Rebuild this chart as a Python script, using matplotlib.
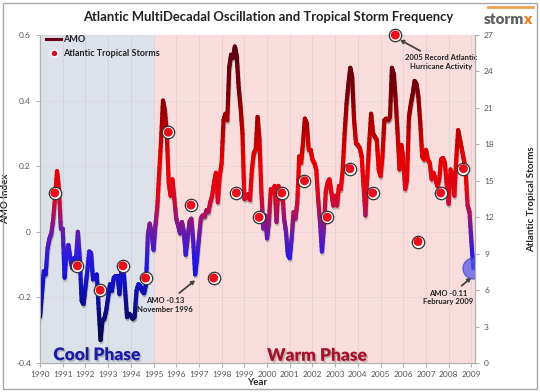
import numpy as np
import matplotlib
matplotlib.use('Agg')
import matplotlib.pyplot as plt
from matplotlib.collections import LineCollection
from matplotlib.colors import LinearSegmentedColormap
from matplotlib.lines import Line2D
from matplotlib.patches import Rectangle
import matplotlib.patheffects as pe

# ---------------- data ----------------
start_year = 1990
amo_1990 = [-0.26, -0.19, -0.12, -0.13, -0.05, -0.02, -0.005, 0.04, 0.11, 0.185, 0.13, 0.01]
amo_1991 = [0.01, -0.14, -0.06, -0.04, -0.08, -0.11, -0.08, -0.085, 0.0, -0.08, -0.21, -0.22]
amo_1992 = [-0.17, -0.12, -0.06, -0.065, -0.145, -0.137, -0.13, -0.235, -0.33, -0.27, -0.265, -0.24]
amo_1993 = [-0.2, -0.16, -0.18, -0.14, -0.135, -0.135, -0.19, -0.116, -0.105, -0.18, -0.26, -0.25]
amo_1994 = [-0.255, -0.265, -0.26, -0.18, -0.16, -0.165, -0.18, -0.187, -0.16, -0.01, 0.025, -0.005]
amo_1995 = [-0.055, 0.02, 0.077, 0.18, 0.28, 0.40, 0.37, 0.30, 0.15, 0.11, 0.16, 0.10]
amo_1996 = [0.04, 0.02, -0.005, 0.03, 0.0, -0.07, -0.02, 0.03, 0.04, -0.03, -0.13, -0.08]
amo_1997 = [-0.02, 0.04, 0.05, 0.046, 0.066, 0.06, 0.09, 0.11, 0.15, 0.18, 0.09, 0.17]
amo_1998 = [0.21, 0.34, 0.36, 0.34, 0.50, 0.54, 0.53, 0.565, 0.534, 0.44, 0.38, 0.30]
amo_1999 = [0.10, 0.105, 0.115, 0.097, 0.19, 0.24, 0.25, 0.35, 0.28, 0.12, 0.01, 0.05]
amo_2000 = [-0.02, 0.03, 0.13, 0.12, 0.14, 0.03, 0.14, 0.10, 0.13, 0.04, 0.0, -0.07]
amo_2001 = [-0.08, -0.02, 0.06, 0.04, 0.09, 0.23, 0.21, 0.27, 0.345, 0.33, 0.25, 0.25]
amo_2002 = [0.22, 0.21, 0.19, 0.10, 0.03, -0.06, 0.01, 0.12, 0.15, 0.16, 0.12, 0.08]
amo_2003 = [0.11, 0.08, 0.14, 0.13, 0.19, 0.30, 0.39, 0.45, 0.50, 0.47, 0.34, 0.27]
amo_2004 = [0.265, 0.255, 0.23, 0.14, 0.05, 0.17, 0.27, 0.36, 0.30, 0.29, 0.28, 0.19]
amo_2005 = [0.17, 0.23, 0.34, 0.345, 0.34, 0.35, 0.50, 0.48, 0.40, 0.30, 0.19, 0.265]
amo_2006 = [0.22, 0.13, 0.16, 0.35, 0.39, 0.42, 0.46, 0.45, 0.41, 0.33, 0.23, 0.22]
amo_2007 = [0.25, 0.22, 0.21, 0.16, 0.18, 0.16, 0.14, 0.16, 0.22, 0.225, 0.21, 0.14]
amo_2008 = [0.085, 0.19, 0.17, 0.11, 0.22, 0.31, 0.28, 0.25, 0.22, 0.18, 0.08, 0.06]
amo_2009 = [-0.03, -0.11]

storm_years = list(range(1990, 2009))
storm_counts = [14, 8, 6, 8, 7, 19, 13, 7, 14, 12, 14, 15, 12, 16, 14, 27, 10, 14, 16]

year_ticks = list(range(1990, 2010))
amo_ticks = [-0.4, -0.2, 0, 0.2, 0.4, 0.6]
amo_tick_labels = ['-0.4', '-0.2', '0', '0.2', '0.4', '0.6']
storm_ticks = list(range(0, 28, 3))

# ---------------- figure ----------------
plt.rcParams['font.family'] = ['Lato', 'DejaVu Sans']
W, H = 540, 392
fig = plt.figure(figsize=(W / 100, H / 100), dpi=100)
ax = fig.add_axes([40 / W, 29 / H, 435 / W, 328 / H])
ax.set_xlim(1990, 2009.16)
ax.set_ylim(-0.4, 0.6)

amo = (amo_1990 + amo_1991 + amo_1992 + amo_1993 + amo_1994 + amo_1995 + amo_1996 +
       amo_1997 + amo_1998 + amo_1999 + amo_2000 + amo_2001 + amo_2002 + amo_2003 +
       amo_2004 + amo_2005 + amo_2006 + amo_2007 + amo_2008 + amo_2009)
amo = np.array(amo)
t = start_year + np.arange(len(amo)) / 12.0

# backgrounds
ax.axvspan(1990, 1995, color='#dde1ea', zorder=0, lw=0)
ax.axvspan(1995, 2009.16, color='#f9dddd', zorder=0, lw=0)
ax.set_axisbelow(True)
ax.grid(True, axis='x', color='#c8c4cc', lw=0.6, alpha=0.5)
ax.grid(True, axis='y', color='#d6d0d6', lw=0.6, alpha=0.5)

# gradient line (subdivide each segment for smooth colour change)
cmap = LinearSegmentedColormap.from_list('amo', [
    (0.00, '#050535'), (0.11, '#0c0c80'), (0.22, '#1212c8'), (0.295, '#2a1ae0'),
    (0.38, '#6a1aa8'), (0.445, '#b0105a'), (0.51, '#e00818'), (0.62, '#e60000'),
    (0.73, '#b00000'), (0.84, '#7a0008'), (1.00, '#5a0010')])
vmin, vmax = -0.35, 0.57
segs, cols = [], []
for i in range(len(amo) - 1):
    xs = np.linspace(t[i], t[i + 1], 7)
    ys = np.linspace(amo[i], amo[i + 1], 7)
    for j in range(6):
        segs.append([(xs[j], ys[j]), (xs[j + 1], ys[j + 1])])
        cols.append(cmap(((ys[j] + ys[j + 1]) / 2 - vmin) / (vmax - vmin)))
shadow = LineCollection([[(a + 0.03, b - 0.006) for a, b in s] for s in segs],
                        colors='#999999', linewidths=3.2, alpha=0.35, zorder=2,
                        capstyle='round')
ax.add_collection(shadow)
lc = LineCollection(segs, colors=cols, linewidths=3.0, zorder=3, capstyle='round',
                    joinstyle='round')
ax.add_collection(lc)

# end-point highlight
ax.scatter([t[-1]], [amo[-1]], s=230, color='#5a5ae8', alpha=0.75,
           edgecolor='#3a3ac8', lw=0.8, zorder=6)

# axes styling
ax.set_xticks(year_ticks)
ax.set_xticklabels([str(y) for y in year_ticks])
ax.set_yticks(amo_ticks)
ax.set_yticklabels(amo_tick_labels)
ax.spines['top'].set_visible(False)
for sp in ['left', 'bottom', 'right']:
    ax.spines[sp].set_color('#b0b0b0')
    ax.spines[sp].set_linewidth(0.8)
ax.tick_params(axis='both', labelsize=6, colors='#b0b0b0', labelcolor='#555555',
               length=3, width=0.8)
ax.tick_params(axis='x', pad=3)
ax.set_xlabel('Year', fontsize=7, fontweight='bold', labelpad=0, color='#222222')
ax.set_ylabel('AMO Index', fontsize=7, fontweight='bold', color='#222222')
ax.yaxis.set_label_coords(-0.068, 0.5)

ax2 = ax.twinx()
ax2.set_ylim(0, 27)
ax2.set_yticks(storm_ticks)
ax2.spines['top'].set_visible(False)
for sp in ['left', 'bottom', 'right']:
    ax2.spines[sp].set_color('#b0b0b0')
    ax2.spines[sp].set_linewidth(0.8)
ax2.tick_params(axis='y', labelsize=6, colors='#b0b0b0', labelcolor='#555555',
                length=3, width=0.8)
ax2.set_ylabel('Atlantic Tropical Storms', fontsize=7, fontweight='bold', color='#222222')
ax2.yaxis.set_label_coords(1.12, 0.5)

sx = np.array(storm_years) + 0.65
ax2.scatter(sx, storm_counts, s=80, facecolor='white', edgecolor='#333333',
            lw=0.9, zorder=7, clip_on=False)
ax2.scatter(sx, storm_counts, s=42, facecolor='#e8101c', edgecolor='none',
            zorder=8, clip_on=False)

# legend
h1 = Line2D([], [], color='#6a0018', lw=2.2)
h2 = Line2D([], [], marker='o', color='none', markerfacecolor='#d0102a',
            markeredgecolor='#ffffff', markersize=5)
leg = ax2.legend([h1, h2], ['AMO', 'Atlantic Tropical Storms'], loc='upper left',
                 bbox_to_anchor=(0.0, 1.02), frameon=False, handlelength=1.6,
                 handletextpad=0.2, labelspacing=0.6, borderaxespad=0.3,
                 prop={'size': 6.5, 'weight': 'bold'})
for tx in leg.get_texts():
    tx.set_color('#222222')

# annotations
arrow_kw = dict(arrowstyle='-|>,head_length=0.35,head_width=0.2', color='#444444',
                lw=1.3, shrinkA=1, shrinkB=0)
ax.annotate('AMO -0.13\nNovember 1996', xy=(1996.83, -0.148), xytext=(1995.5, -0.222),
            ha='center', va='center', fontsize=5.5, fontweight='bold', color='#222222',
            arrowprops=arrow_kw, zorder=9, linespacing=1.3)
ax.annotate('2005 Record Atlantic\nHurricane Activity', xy=(2005.86, 0.585),
            xytext=(2007.67, 0.517), ha='center', va='center', fontsize=5.5,
            fontweight='bold', color='#222222', arrowprops=arrow_kw, zorder=9,
            linespacing=1.3)
ax.annotate('AMO -0.11\nFebruary 2009', xy=(2008.99, -0.14), xytext=(2007.97, -0.2),
            ha='center', va='center', fontsize=5.5, fontweight='bold', color='#222222',
            arrowprops=arrow_kw, zorder=9, linespacing=1.3)

shadow_fx = [pe.withSimplePatchShadow(offset=(1.2, -1.2), shadow_rgbFace='#888888', alpha=0.5)]
ax.text(1992.51, -0.376, 'Cool Phase', ha='center', va='center', fontsize=12.5,
        fontweight='heavy', color='#1a1aa6', path_effects=shadow_fx, zorder=9)
ax.text(2002.2, -0.378, 'Warm Phase', ha='center', va='center', fontsize=12.5,
        fontweight='heavy', color='#a8102a', path_effects=shadow_fx, zorder=9)

# title and logo
fig.text(268.5 / W, 1 - 17 / H, 'Atlantic MultiDecadal Oscillation and Tropical Storm Frequency',
         ha='center', va='center', fontsize=9.4, fontweight='bold', color='#222222')
fig.text(484 / W, 1 - 19 / H, 'storm', ha='left', va='center', fontsize=11,
         fontweight='heavy', color='#5f5f5f')
fig.text(523 / W, 1 - 19 / H, 'x', ha='left', va='center', fontsize=11,
         fontweight='heavy', color='#f07a20')
fig.add_artist(Line2D([488 / W, 533 / W], [1 - 7 / H, 1 - 7 / H], color='#f0a050',
                      lw=2, transform=fig.transFigure))

# outer border
fig.add_artist(Rectangle((3 / W, 3 / H), 534 / W, 386 / H, transform=fig.transFigure,
                         fill=False, edgecolor='#a8a8a8', lw=1))

fig.savefig('out.png', dpi=100)
